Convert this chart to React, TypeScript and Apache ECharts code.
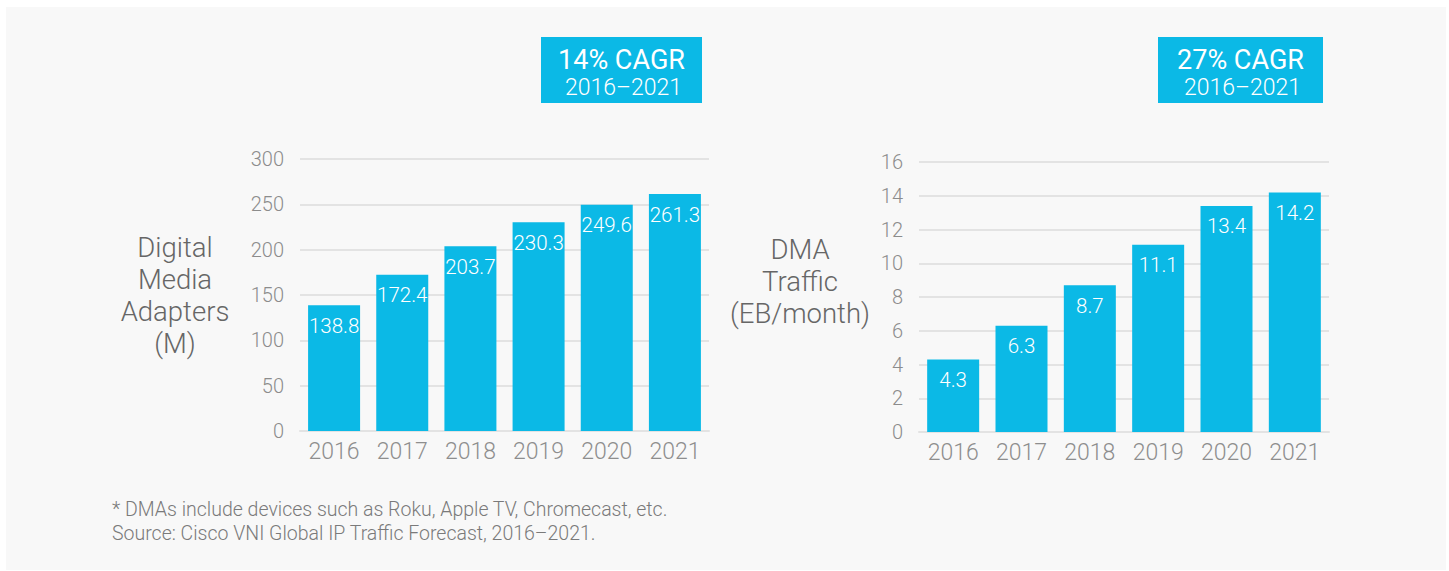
import React, { useEffect, useRef } from "react";
import * as echarts from "echarts";

const years = ["2016", "2017", "2018", "2019", "2020", "2021"];
const adapters = [138.8, 172.4, 203.7, 230.3, 249.6, 261.3];
const traffic = [4.3, 6.3, 8.7, 11.1, 13.4, 14.2];
const leftAxisName = "Digital\nMedia\nAdapters\n(M)";
const rightAxisName = "DMA\nTraffic\n(EB/month)\n";
const leftCagr = ["14% CAGR", "2016–2021"];
const rightCagr = ["27% CAGR", "2016–2021"];
const footnotes = [
  "* DMAs include devices such as Roku, Apple TV, Chromecast, etc.",
  "Source: Cisco VNI Global IP Traffic Forecast, 2016–2021.",
];

const FONT = "Roboto";
const BLUE = "#0bb9e6";
const GRID = "#e3e3e3";

export default function App() {
  const ref = useRef<HTMLDivElement>(null);
  useEffect(() => {
    if (!ref.current) return;
    const chart = echarts.init(ref.current, undefined, { renderer: "svg" });
    const yAxisCommon = (max: number, interval: number, name: string, gap: number) => ({
      type: "value",
      min: 0,
      max,
      interval,
      name,
      nameLocation: "middle",
      nameRotate: 0,
      nameGap: gap,
      nameTextStyle: {
        fontFamily: FONT,
        fontWeight: 300,
        fontSize: 27.5,
        color: "#666666",
        lineHeight: 32,
        align: "center",
        verticalAlign: "middle",
      },
      axisLine: { show: false },
      axisTick: { show: false },
      axisLabel: { fontFamily: FONT, fontWeight: 300, fontSize: 20, color: "#8c8c8c", margin: 16 },
      splitLine: { lineStyle: { color: GRID, width: 2 } },
    });
    const xAxisCommon = (gridIndex: number) => ({
      type: "category",
      gridIndex,
      data: years,
      axisLine: { show: true, lineStyle: { color: GRID, width: 2 } },
      axisTick: { show: false },
      axisLabel: { fontFamily: FONT, fontWeight: 300, fontSize: 23, color: "#8e8e8e", margin: 9 },
    });
    const barLabel = {
      show: true,
      position: "insideTop",
      distance: 10,
      fontFamily: FONT,
      fontWeight: 300,
      fontSize: 20.5,
      color: "#ffffff",
    };
    const cagrBox = (x: number, w: number, lines: string[]) => ({
      type: "group",
      children: [
        { type: "rect", shape: { x, y: 37, width: w, height: 66 }, style: { fill: BLUE } },
        {
          type: "text",
          x: x + w / 2,
          y: 60,
          style: { text: lines[0], fontFamily: FONT, fontWeight: 400, fontSize: 27, fill: "#ffffff", align: "center", verticalAlign: "middle" },
        },
        {
          type: "text",
          x: x + w / 2 + 2,
          y: 87,
          style: { text: lines[1], fontFamily: FONT, fontWeight: 300, fontSize: 23, fill: "#ffffff", align: "center", verticalAlign: "middle" },
        },
      ],
    });
    chart.setOption({
      animation: false,
      backgroundColor: "#ffffff",
      grid: [
        { left: 300, top: 159, width: 409, height: 272 },
        { left: 919, top: 162, width: 410, height: 270 },
      ],
      xAxis: [xAxisCommon(0), xAxisCommon(1)],
      yAxis: [
        { ...yAxisCommon(300, 50, leftAxisName, 125), gridIndex: 0 },
        { ...yAxisCommon(16, 2, rightAxisName, 119), gridIndex: 1 },
      ],
      series: [
        { type: "bar", xAxisIndex: 0, yAxisIndex: 0, data: adapters, barWidth: 52, itemStyle: { color: BLUE }, label: barLabel },
        { type: "bar", xAxisIndex: 1, yAxisIndex: 1, data: traffic, barWidth: 52, itemStyle: { color: BLUE }, label: barLabel },
      ],
      graphic: [
        { type: "rect", z: -10, silent: true, shape: { x: 6, y: 7, width: 1440, height: 563 }, style: { fill: "#f8f8f8" } },
        cagrBox(541, 161, leftCagr),
        cagrBox(1158, 165, rightCagr),
        {
          type: "text",
          x: 112,
          y: 509,
          style: { text: footnotes[0], fontFamily: FONT, fontWeight: 300, fontSize: 19.5, fill: "#7a7a7a", verticalAlign: "middle" },
        },
        {
          type: "text",
          x: 112,
          y: 533,
          style: { text: footnotes[1], fontFamily: FONT, fontWeight: 300, fontSize: 19.5, fill: "#7a7a7a", verticalAlign: "middle" },
        },
      ],
    });
    return () => chart.dispose();
  }, []);
  return <div ref={ref} style={{ position: "fixed", left: 0, top: 0, width: 1449, height: 571 }} />;
}
